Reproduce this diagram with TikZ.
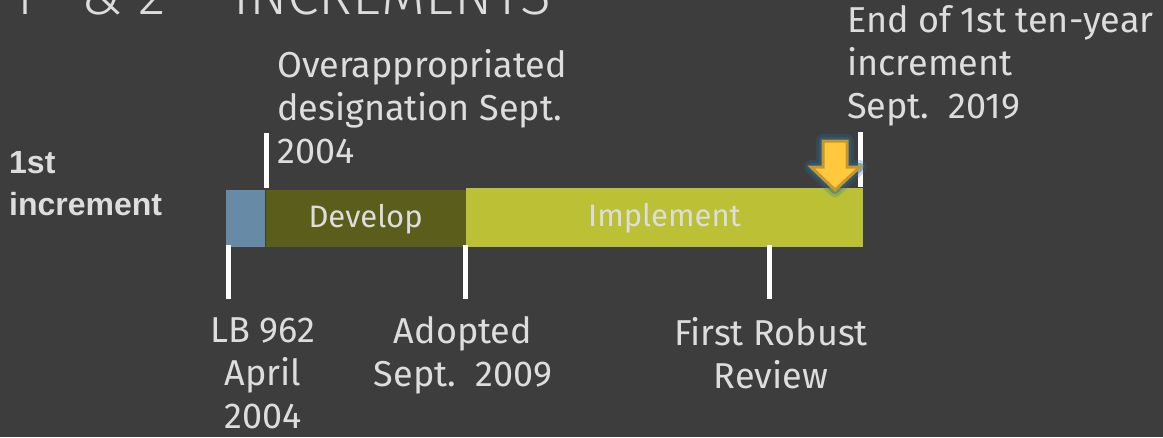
\documentclass[tikz,border=0pt]{standalone}
\usepackage{fontspec}
\setmainfont{Fira Sans}
\newfontfamily\titlefont{Fira Sans Light}
\newfontfamily\rowfont{Liberation Sans}
\usetikzlibrary{positioning}
\definecolor{slidebg}{RGB}{61,61,61}
\definecolor{textgrey}{RGB}{221,221,221}
\definecolor{stageblue}{RGB}{103,139,166}
\definecolor{developolive}{RGB}{91,93,26}
\definecolor{implementlime}{RGB}{188,192,52}
\definecolor{arrowgold}{RGB}{255,200,61}
\definecolor{arrowedge}{RGB}{200,150,42}
\definecolor{glowblue}{RGB}{40,110,150}

\begin{document}
\begin{tikzpicture}[x=1pt, y=-1pt,
    every node/.style={inner sep=0pt, text=textgrey},
    lbl/.style={font=\fontsize{36}{43}\selectfont, align=left},
    lblc/.style={font=\fontsize{36}{43}\selectfont, align=center},
    barlbl/.style={font=\fontsize{31}{36}\selectfont},
    tick/.style={white, line width=5pt}]

    % background
    \fill[slidebg] (0,0) rectangle (1163,437);
    \useasboundingbox (0,0) rectangle (1163,437);
    \clip (0,0) rectangle (1163,437);

    % title (cut by the top edge)
    \node[font=\titlefont\fontsize{57}{60}\selectfont, anchor=base west]
      (title) at (10,14) {1\raisebox{26pt}{\fontsize{30}{30}\selectfont st}\hspace{8pt} \&
      2\raisebox{26pt}{\fontsize{30}{30}\selectfont nd}\hspace{16pt} INCREMENTS};

    % row label (base = last line)
    \node[font=\rowfont\bfseries\fontsize{32}{42}\selectfont, align=left, anchor=base west]
      (row) at (9,215) {1st\\increment};

    % bar segments
    \node[fill=stageblue, minimum width=39pt, minimum height=57pt, anchor=north west]
      (start) at (226,190) {};
    \node[fill=developolive, minimum width=200pt, minimum height=57pt, barlbl,
      right=0pt of start] (develop) {Develop};
    \node[fill=implementlime, minimum width=397pt, minimum height=59pt, barlbl,
      anchor=south west] (implement) at (develop.south east) {Implement};

    % ticks
    \draw[tick] (266,133) -- (266,188);
    \draw[tick] (860,132) -- (860,187);
    \foreach \tx in {228, 465, 769}{
      \draw[tick] (\tx,245) -- (\tx,299);
    }

    % marker arrow
    \def\droppath{(823,141) -- (847,141) -- (847,167) -- (860,167) -- (835,190)
      -- (811,167) -- (823,167) -- cycle}
    \draw[glowblue, opacity=0.25, line width=14pt, line join=round] \droppath;
    \draw[glowblue, opacity=0.45, line width=8pt, line join=round] \droppath;
    \filldraw[fill=arrowgold, draw=arrowedge, line width=3pt, line join=miter] \droppath;

    % milestone labels (base = last line)
    \node[lbl, anchor=base west] (overapp) at (277,163)
      {Overappropriated\\designation Sept.\\2004};
    \node[lbl, anchor=base west] (endinc) at (847,118)
      {End of 1st ten-year\\increment\\Sept.\ \ 2019};
    \node[lblc, anchor=base] (lb) at (263,428) {LB 962\\April\\2004};
    \node[lblc, anchor=base] (adopted) at (463,386) {Adopted\\Sept.\ \ 2009};
    \node[lblc, anchor=base] (review) at (771,388) {First Robust\\Review};

\end{tikzpicture}
\end{document}
